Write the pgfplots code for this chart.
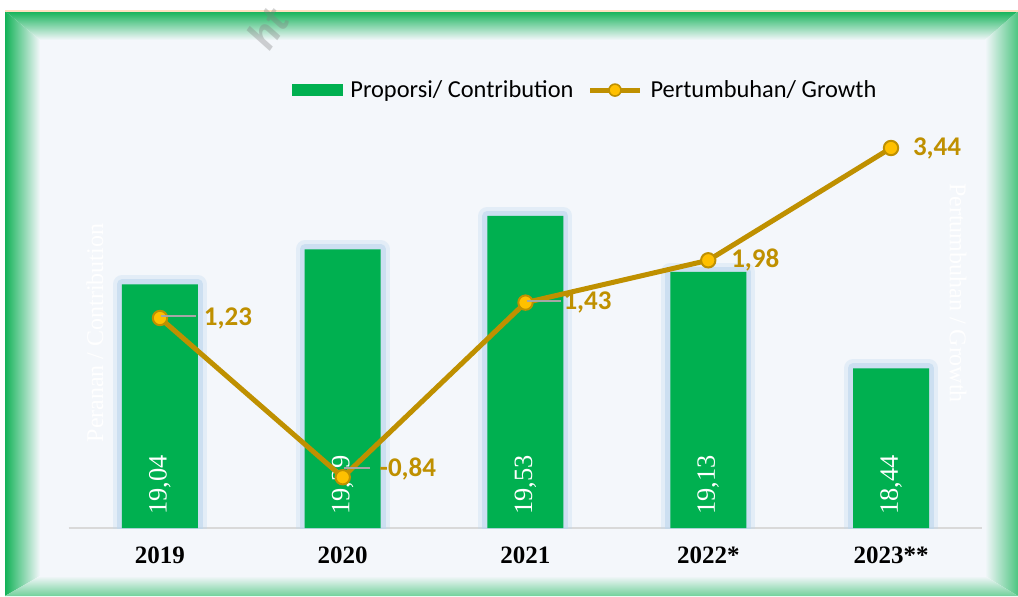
\documentclass[border=0pt]{standalone}
\usepackage{pgfplots}
\pgfplotsset{compat=1.18}
\usepackage{pgfplotstable}
\usepackage{fontspec}
\setmainfont{Carlito}
\newfontfamily\tnr{Liberation Serif}
\definecolor{barGreen}{HTML}{00B050}
\definecolor{frameGreen}{HTML}{12B257}
\definecolor{panelBg}{HTML}{F4F7FB}
\definecolor{glowBlue}{HTML}{BDD7EE}
\definecolor{growthLine}{HTML}{BF9000}
\definecolor{growthMark}{HTML}{FFC000}
\definecolor{leadGray}{HTML}{A6A6A6}
\definecolor{axisGray}{HTML}{D9D9D9}
\newdimen\px \px=0.5pt

% share of GDP (%), label text as printed
\pgfplotstableread{
x share slbl
0 19.04 19,04
1 19.29 19,29
2 19.53 19,53
3 19.13 19,13
4 18.44 18,44
}\sharetab
% growth (%), leader length / text offset / vertical shift in px
\pgfplotstableread{
x growth lead off dy lbl
0 1.23 35 43 0 1,23
1 -0.84 26 36 8 -0,84
2 1.43 34 37 0 1,43
3 1.98 0 22 0 1,98
4 3.44 0 21 0 3,44
}\growthtab

\begin{document}
\begin{tikzpicture}
% frame, in image pixels (1px = 0.5pt)
\begin{scope}[x=0.5pt,y=0.5pt]
\path[use as bounding box] (0,0) rectangle (1018,596);
\fill[white] (0,0) rectangle (1018,596);
\fill[panelBg] (40,20) rectangle (985,556);
\shade[top color=frameGreen, bottom color=panelBg] (5,585) -- (1018,585) -- (985,556) -- (40,556) -- cycle;
\shade[left color=frameGreen, right color=panelBg] (5,585) -- (40,556) -- (40,20) -- (5,0) -- cycle;
\shade[left color=panelBg, right color=frameGreen!75] (1018,585) -- (985,556) -- (985,20) -- (1018,0) -- cycle;
\shade[top color=panelBg, bottom color=frameGreen!60] (40,20) -- (985,20) -- (1018,0) -- (5,0) -- cycle;
\draw[orange!25, line width=0.6pt] (5,585) -- (1018,585);
\node[rotate=55, text=gray, opacity=0.35, font=\bfseries\itshape\fontsize{22}{22}\selectfont] at (268,568) {ht};
% faint axis titles
\node[rotate=90, text=white, font=\tnr\fontsize{12}{14}\selectfont] at (95,263) {Peranan / Contribution};
\node[rotate=-90, text=white, font=\tnr\fontsize{12}{14}\selectfont] at (958,303) {Pertumbuhan / Growth};
\end{scope}

\begin{axis}[
  at={(34.3pt,34pt)}, anchor=south west,
  scale only axis, width=456.9pt, height=230pt,
  xmin=-0.5, xmax=4.5, ymin=17.3, ymax=20.586,
  axis x line*=bottom, axis y line=none,
  x axis line style={axisGray, line width=1pt},
  xtick={0,1,2,3,4}, xticklabels={2019,2020,2021,2022*,2023**},
  major tick length=0pt,
  xticklabel style={font=\tnr\bfseries\fontsize{12.5}{14}\selectfont, text=black, yshift=-6pt},
]
\addplot[ybar, bar width=38pt, bar shift=0pt, fill=glowBlue, draw=glowBlue,
  line width=9pt, line join=round, opacity=0.3, forget plot]
  table[x=x, y=share] {\sharetab};
\addplot[ybar, bar width=38pt, bar shift=0pt, fill=glowBlue, draw=glowBlue,
  line width=5pt, line join=round, opacity=0.6, forget plot]
  table[x=x, y=share] {\sharetab};
\addplot[ybar, bar width=38pt, bar shift=0pt, fill=barGreen, draw=none, forget plot]
  table[x=x, y=share] {\sharetab};
% value labels at the foot of each bar
\addplot[draw=none, mark=none, forget plot, nodes near coords, point meta=explicit symbolic,
  every node near coord/.style={anchor=west, inner sep=0pt, yshift=6.5pt, rotate=90,
    text=white, font=\tnr\fontsize{13.2}{15}\selectfont}]
  table[x=x, y expr=17.3, meta=slbl] {\sharetab};
\end{axis}

\begin{axis}[
  at={(34.3pt,34pt)}, anchor=south west,
  scale only axis, width=456.9pt, height=230pt,
  xmin=-0.5, xmax=4.5, ymin=-1.5, ymax=4.48,
  hide x axis, hide y axis,
  legend style={at={(axis description cs:0.5684,0.952)}, anchor=center,
    draw=none, fill=none, font=\fontsize{12.2}{14}\selectfont, legend columns=2,
    /tikz/every even column/.append style={column sep=3pt},
    nodes={inner xsep=4pt}},
  legend cell align=left,
]
\addlegendimage{legend image code/.code={\fill[barGreen] (0pt,-2.6pt) rectangle (25pt,2.6pt);}}
\addlegendentry{Proporsi/ Contribution}
\addplot[growthLine, line width=2.5pt, mark=*, mark size=3.6pt,
  mark options={fill=growthMark, draw=growthLine, line width=1pt},
  legend image code/.code={\draw[growthLine, line width=2.5pt] (0pt,0pt) -- (25pt,0pt);
    \filldraw[fill=growthMark, draw=growthLine, line width=0.8pt] (12.5pt,0pt) circle (3pt);},
  point meta=explicit symbolic,
  visualization depends on={\thisrow{lead} \as \leadlen},
  visualization depends on={\thisrow{off} \as \textoff},
  visualization depends on={\thisrow{dy} \as \ydy},
  nodes near coords={\makebox[\textoff\px][l]{\textcolor{leadGray}{\rule[0.3em]{\leadlen\px}{0.9pt}}}\pgfplotspointmeta},
  every node near coord/.style={anchor=west, inner sep=0pt, yshift=\ydy*0.5pt,
    text=growthLine, font=\bfseries\fontsize{13.5}{15}\selectfont}]
  table[x=x, y=growth, meta=lbl] {\growthtab};
\addlegendentry{Pertumbuhan/ Growth}
\end{axis}
\end{tikzpicture}
\end{document}
